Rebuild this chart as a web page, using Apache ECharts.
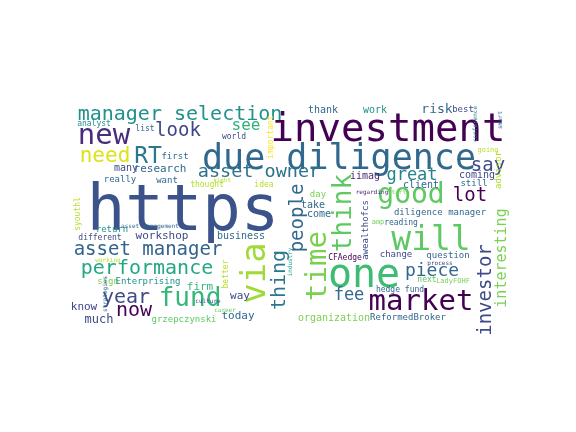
<!DOCTYPE html>
<html>
<head>
<meta charset="utf-8">
<script src="https://cdn.jsdelivr.net/npm/echarts@6/dist/echarts.min.js"></script>
<style>
  html, body { margin: 0; padding: 0; background: #ffffff; }
  #cloud { width: 576px; height: 432px; }
</style>
</head>
<body>
<div id="cloud"></div>
<script>
// words and their weight (font size in px)
var words = ['https', 'investment', 'due diligence', 'manager selection', 'new', 'look', 'RT', 'need',
    'first', 'list', 'analyst', 'see', 'world', 'important', 'thank', 'work', 'risk', 'best',
    'asset owner', 'idea', 'thought', 'many', 'research', 'really', 'want', 'say', 'great', 'good',
    'lot', 'iimag', 'client', 'coming', 'still', 'going', 'think', 'people', 'day', 'take', 'come',
    'time', 'thing', 'via', 'business', 'better', 'way', 'today', 'CFAedge', 'awealthofcs', 'one',
    'will', 'diligence manager', 'reading', 'amp', 'change', 'question', 'piece', 'next', 'LadyFOHF',
    'hedge fund', 'market', 'ReformedBroker', 'organization', 'fee', 'investor', 'interesting',
    'asset manager', 'performance', 'workshop', 'return', 'different', 'syouthl', 'sign',
    'Enterprising', 'firm', 'year', 'fund', 'now', 'know', 'much', 'grzepczynski', 'advisor',
    'regarding', 'start', 'asset management', 'working', 'culture', 'strategies', 'industry',
    'process', 'right', 'conference', 'career', 'smart'];
var weights = [64, 39, 35, 20, 29, 19, 23, 21,
    9, 8, 8, 16, 8, 8, 10, 10, 13, 9,
    18.5, 8, 8, 10, 11, 9, 9, 19, 17, 28,
    19, 10, 10, 10, 9, 7, 26, 19, 9, 10, 10,
    29, 20, 34, 10, 8, 11, 11, 8, 9, 40,
    33, 9, 8, 7, 9, 9, 18, 8, 7,
    8, 29, 9, 10, 17, 19, 15,
    19, 20, 11, 9, 8, 8, 9,
    9, 11, 20, 26, 20, 11, 12, 9, 9,
    6, 6, 6, 6, 6, 6, 6,
    6, 6, 6, 6, 6];

// where the cloud placed each word (page pixels), and whether it was turned
var placeX = [183, 388, 339, 180, 104, 178, 148, 105,
    175, 145, 94, 246, 234, 271, 323, 375, 437, 463,
    259, 264, 207, 126, 160, 120, 167, 488, 412, 411,
    470, 365, 421, 477, 474, 488, 344, 298, 318, 313, 319,
    318, 280, 256, 241, 226, 240, 238, 345, 366, 364,
    431, 440, 401, 378, 396, 448, 432, 427, 453,
    400, 421, 408, 334, 349, 486, 502,
    148, 147, 162, 112, 100, 78, 108,
    148, 200, 126, 190, 134, 84, 99, 184, 499,
    372, 397, 150, 108, 208, 105, 290,
    440, 222, 475, 225, 500];
var placeY = [213, 131, 160, 115, 136, 131, 157, 157,
    157, 129, 124, 126, 137, 137, 110, 110, 110, 110,
    172, 185, 185, 168, 169, 180, 181, 166, 176, 196,
    196, 176, 185, 175, 184, 150, 213, 218, 195, 205, 214,
    266, 280, 273, 236, 274, 296, 316, 258, 230, 277,
    241, 213, 223, 222, 255, 256, 271, 280, 281,
    290, 302, 318, 318, 296, 290, 258,
    250, 269, 236, 230, 238, 214, 282,
    282, 287, 298, 299, 311, 307, 320, 320, 170,
    192, 192, 226, 260, 301, 294, 262,
    263, 180, 124, 310, 120];
var turned = [0, 0, 0, 0, 0, 0, 0, 0,
    0, 0, 0, 0, 0, 1, 0, 0, 0, 0,
    0, 0, 0, 0, 0, 0, 0, 0, 0, 0,
    0, 0, 0, 0, 0, 0, 1, 1, 0, 0, 0,
    1, 1, 1, 0, 1, 0, 0, 0, 1, 0,
    0, 0, 0, 0, 0, 0, 0, 0, 0,
    0, 0, 0, 0, 0, 1, 1,
    0, 0, 0, 0, 0, 1, 0,
    0, 0, 0, 0, 0, 0, 0, 0, 1,
    0, 0, 0, 0, 0, 1, 1,
    0, 0, 1, 0, 1];
var colors = ['#3b528b', '#440154', '#31688e', '#21918c', '#472d7b', '#414487', '#2a788e', '#dde318',
    '#31688e', '#31688e', '#21918c', '#2eb37c', '#3e4a89', '#fde725', '#31688e', '#21918c', '#31688e', '#3e4a89',
    '#2c728e', '#b5de2b', '#b5de2b', '#3e4a89', '#31688e', '#31688e', '#31688e', '#3e4a89', '#26828e', '#5ec962',
    '#440154', '#482878', '#31688e', '#3e4a89', '#31688e', '#b5de2b', '#5ec962', '#31688e', '#7ad151', '#31688e', '#31688e',
    '#7ad151', '#2a788e', '#a0da39', '#31688e', '#b5de2b', '#3e4a89', '#31688e', '#440154', '#3e4a89', '#3fbc73',
    '#5ec962', '#31688e', '#31688e', '#6ece58', '#3e4a89', '#31688e', '#31688e', '#5ec962', '#7ad151',
    '#31688e', '#440154', '#31688e', '#7ad151', '#31688e', '#3e4a89', '#7ad151',
    '#33638d', '#22a884', '#3e4a89', '#21918c', '#3e4a89', '#b5de2b', '#7ad151',
    '#21918c', '#35b779', '#3e4a89', '#35b779', '#440154', '#414487', '#3e4a89', '#5ec962', '#b5de2b',
    '#482878', '#7ad151', '#31688e', '#b5de2b', '#3e4a89', '#31688e', '#1f9e89',
    '#414487', '#b5de2b', '#26828e', '#6ece58', '#31688e'];

var myChart = echarts.init(document.getElementById('cloud'));

var points = [];
for (var i = 0; i < words.length; i++) {
    points.push({
        name: words[i],
        value: [placeX[i], placeY[i]],
        label: {
            fontSize: weights[i],
            color: colors[i],
            rotate: turned[i] ? 90 : 0
        }
    });
}

option = {
    backgroundColor: '#ffffff',
    animation: false,
    grid: { left: 0, right: 0, top: 0, bottom: 0 },
    xAxis: { type: 'value', min: 0, max: 576, show: false },
    yAxis: { type: 'value', min: 0, max: 432, inverse: true, show: false },
    series: [{
        type: 'scatter',
        symbolSize: 0,
        itemStyle: { opacity: 1 },
        data: points,
        label: {
            show: true,
            position: 'inside',
            formatter: '{b}',
            fontFamily: 'DejaVu Sans Mono',
            align: 'center',
            verticalAlign: 'middle'
        }
    }]
};
myChart.setOption(option);
</script>
</body>
</html>
